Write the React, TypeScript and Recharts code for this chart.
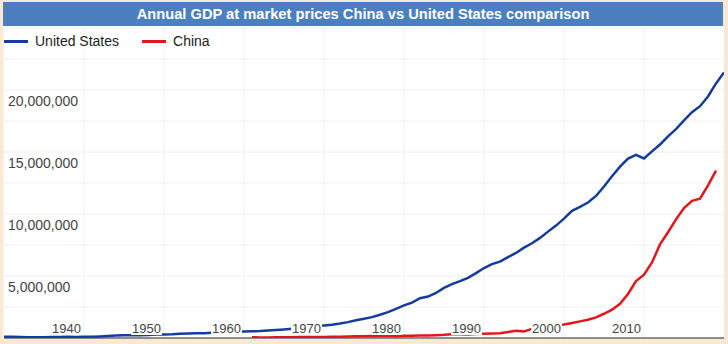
import React from "react";
import { LineChart, Line, XAxis, YAxis, CartesianGrid, ReferenceLine } from "recharts";

// ---- data (GDP, US$ millions) ----
const TITLE = "Annual GDP at market prices China vs United States comparison";
const SERIES_NAMES = ["United States", "China"];
const SERIES_COLORS = ["#143c9c", "#e4161c"];

const US_START_YEAR = 1929;
const US_GDP = [
  104600, 92200, 77400, 59500, 57200, 66800, 74200, 84800, 93000, 87400,
  93400, 102900, 129300, 166000, 203100, 224400, 228000, 227500, 249600, 274500,
  272500, 299800, 346900, 367300, 389200, 390500, 425500, 449400, 474000, 481200,
  521700, 542400, 562200, 603900, 637500, 684500, 742300, 813400, 860000, 940700,
  1017600, 1073300, 1164900, 1279100, 1425400, 1545200, 1684900, 1873400, 2081800, 2351600,
  2627300, 2857300, 3207000, 3343800, 3634000, 4037600, 4339000, 4579600, 4855200, 5236400,
  5641600, 5963100, 6158100, 6520300, 6858600, 7287200, 7639700, 8073100, 8577600, 9062800,
  9631200, 10251000, 10581900, 10929100, 11456500, 12217200, 13039200, 13815600, 14474200, 14769900,
  14478100, 15049000, 15599700, 16254000, 16843200, 17550700, 18206000, 18695100, 19479600, 20527200,
  21420000,
];

const CHINA_START_YEAR = 1960;
const CHINA_GDP = [
  59700, 50100, 47200, 50700, 59700, 70400, 76700, 72900, 70800, 79700,
  92600, 99800, 113700, 138500, 144200, 163400, 153900, 174900, 149500, 178300,
  191100, 195900, 205100, 230700, 259900, 309500, 300800, 272900, 312400, 347800,
  360900, 383400, 480000, 590000, 520000, 734500, 863700, 961600, 1029000, 1094000,
  1211000, 1339000, 1471000, 1660000, 1955000, 2286000, 2752000, 3552000, 4594000, 5102000,
  6087000, 7552000, 8532000, 9570000, 10476000, 11062000, 11233000, 12310000, 13500000,
];

const X_TICKS = [1930, 1940, 1950, 1960, 1970, 1980, 1990, 2000, 2010, 2020];
const X_LABELS = [1940, 1950, 1960, 1970, 1980, 1990, 2000, 2010];
const Y_TICKS = [0, 2500000, 5000000, 7500000, 10000000, 12500000, 15000000, 17500000, 20000000, 22500000, 25000000];
const Y_LABELS = [5000000, 10000000, 15000000, 20000000];

// values are year totals, plotted at the end of each year
const rows = US_GDP.map((v, i) => {
  const year = US_START_YEAR + i;
  const ci = year - CHINA_START_YEAR;
  return {
    year,
    t: year + 1,
    us: v,
    china: ci >= 0 && ci < CHINA_GDP.length ? CHINA_GDP[ci] : null,
  };
});

const W = 728;
const H = 344;
const PLOT_TOP = 28;
const PLOT_BOTTOM = 338;
const FONT = "Arial, 'Liberation Sans', sans-serif";

const renderXTick = (props: any) => {
  const v = Number(props.payload?.value);
  if (!X_LABELS.includes(v)) return <g key={"x" + v} />;
  const fs = 13;
  const label = String(v);
  const w = label.length * fs * 0.556;
  const right = props.x - 3;
  return (
    <g key={"x" + v}>
      <rect x={right - w - 1} y={PLOT_BOTTOM - 15} width={w + 2} height={12} fill="#ffffff" />
      <text x={right} y={PLOT_BOTTOM - 5} textAnchor="end" fontSize={fs} fontFamily={FONT} fill="#454545">
        {label}
      </text>
    </g>
  );
};

const renderYTick = (props: any) => {
  const v = Number(props.payload?.value);
  if (!Y_LABELS.includes(v)) return <g key={"y" + v} />;
  return (
    <text key={"y" + v} x={8} y={props.y + 16} textAnchor="start" fontSize={14} fontFamily={FONT} fill="#454545">
      {v.toLocaleString("en-US")}
    </text>
  );
};

export default function App() {
  return (
    <div style={{ position: "absolute", left: 0, top: 0, width: W, height: H, background: "#fbe8d3", overflow: "hidden" }}>
      <div style={{ position: "absolute", left: 3, top: PLOT_TOP - 2, width: 721, height: PLOT_BOTTOM - PLOT_TOP + 2, background: "#ffffff" }} />
      <div style={{ position: "absolute", left: 0, top: 0 }}>
        <LineChart width={W} height={H} data={rows} margin={{ top: PLOT_TOP, right: 4, bottom: H - PLOT_BOTTOM - 1, left: 3 }}>
          <CartesianGrid stroke="#f0f0f0" strokeWidth={1} />
          <ReferenceLine y={0} stroke="#8c8c8c" strokeWidth={2} />
          <Line dataKey="us" name={SERIES_NAMES[0]} stroke={SERIES_COLORS[0]} strokeWidth={2.5} dot={false} isAnimationActive={false} connectNulls={false} />
          <Line dataKey="china" name={SERIES_NAMES[1]} stroke={SERIES_COLORS[1]} strokeWidth={2.5} dot={false} isAnimationActive={false} connectNulls={false} />
          <XAxis dataKey="t" type="number" domain={[1930, 2020]} ticks={X_TICKS} height={1} axisLine={false} tickLine={false} tick={renderXTick} interval={0} allowDataOverflow />
          <YAxis type="number" domain={[0, 25000000]} ticks={Y_TICKS} width={1} axisLine={false} tickLine={false} tick={renderYTick} interval={0} allowDataOverflow />
        </LineChart>
      </div>
      <div style={{ position: "absolute", left: 3, top: 2, width: 720, height: 24, background: "#4b7fbf", color: "#ffffff", fontFamily: FONT, fontWeight: "bold", fontSize: 14.7, lineHeight: "24px", textAlign: "center", whiteSpace: "nowrap" }}>
        {TITLE}
      </div>
      <div style={{ position: "absolute", left: 4, top: 32, display: "flex", alignItems: "center", fontFamily: FONT, fontSize: 14, color: "#222222", height: 18 }}>
        {SERIES_NAMES.map((n, i) => (
          <div key={n} style={{ display: "flex", alignItems: "center", marginRight: i === 0 ? 23 : 0 }}>
            <div style={{ width: 24, height: 3, background: SERIES_COLORS[i], marginRight: 7 }} />
            <span>{n}</span>
          </div>
        ))}
      </div>
    </div>
  );
}
